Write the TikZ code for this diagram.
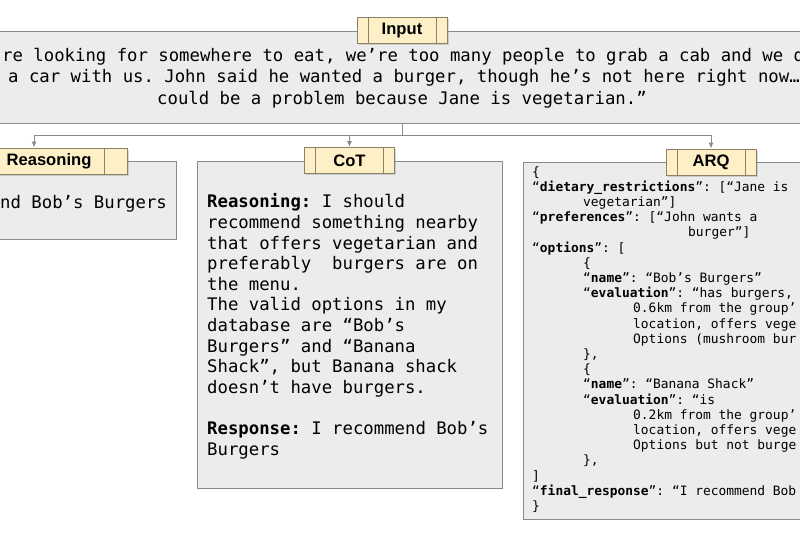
\documentclass[tikz,border=0pt]{standalone}
\usepackage{fontspec}
\setmainfont{Liberation Sans}
\setmonofont{DejaVu Sans Mono}
\usetikzlibrary{arrows.meta,shadows}

\definecolor{panelgray}{HTML}{ECECEC}
\definecolor{edgegray}{HTML}{8A8A8A}
\definecolor{tagyellow}{HTML}{FDF0C6}
\definecolor{tagedge}{HTML}{8C8068}

\tikzset{
  panel/.style={draw=edgegray,fill=panelgray,line width=1pt,inner sep=0pt},
  tag inset/.store in=\taginset, tag inset=11pt,
  tag/.style={draw=tagedge,fill=tagyellow,line width=0.9pt,minimum width=90pt,minimum height=26pt,inner sep=0pt,
    font=\bfseries\fontsize{16.6}{18}\selectfont,
    drop shadow={shadow xshift=1.5pt,shadow yshift=-1.5pt,opacity=0.3},
    path picture={\draw[tagedge,line width=0.9pt]
      ([xshift=\taginset]path picture bounding box.north west) -- ([xshift=\taginset]path picture bounding box.south west)
      ([xshift=-\taginset]path picture bounding box.north east) -- ([xshift=-\taginset]path picture bounding box.south east);}},
  % multi-line texts sit on the baseline of their last line
  body/.style={anchor=base west,inner sep=0pt,align=left,font=\ttfamily\fontsize{17.3}{20.6}\selectfont},
  prompt/.style={body,font=\ttfamily\fontsize{17.3}{21.5}\selectfont},
  json/.style={body,font=\ttfamily\fontsize{12.9}{15.2}\selectfont},
  wire/.style={draw=edgegray,line width=1pt},
}

\begin{document}
\begin{tikzpicture}[x=1pt,y=-1pt]
\useasboundingbox (0,0) rectangle (800,533);
\clip (0,0) rectangle (800,533);

% panels
\node[panel,minimum width=1000pt,minimum height=92pt] (inbox) at (402,77) {};
\node[panel,minimum width=296pt,minimum height=78pt] (nonebox) at (28,200) {};
\node[panel,minimum width=305pt,minimum height=327pt] (cotbox) at (349.5,324.5) {};
\node[panel,minimum width=477pt,minimum height=357pt] (arqbox) at (761.5,340.5) {};

% texts
\node[prompt] (intext) at (2,104) {re looking for somewhere to eat, we’re too many people to grab a cab and we d\\
\hspace*{6pt}a car with us. John said he wanted a burger, though he’s not here right now…\\
\hspace*{155pt}could be a problem because Jane is vegetarian.”};
\node[body] (nonetext) at (0,208) {nd Bob’s Burgers};
\node[body] (cottext) at (207,455) {\textbf{Reasoning:} I should\\
recommend something nearby\\
that offers vegetarian and\\
preferably~~burgers are on\\
the menu.\\
The valid options in my\\
database are “Bob’s\\
Burgers” and “Banana\\
Shack”, but Banana shack\\
doesn’t have burgers.\\[20.6pt]
\textbf{Response:} I recommend Bob’s\\
Burgers};
\node[json] (arqtext) at (532,510.5) {\{\\
“\textbf{dietary\_restrictions}”: [“Jane is\\
\hspace*{51pt}vegetarian”]\\
“\textbf{preferences}”: [“John wants a\\
\hspace*{156pt}burger”]\\
“\textbf{options}”: [\\
\hspace*{51pt}\{\\
\hspace*{51pt}“\textbf{name}”: “Bob’s Burgers”\\
\hspace*{51pt}“\textbf{evaluation}”: “has burgers,\\
\hspace*{101pt}0.6km from the group’\\
\hspace*{101pt}location, offers vege\\
\hspace*{101pt}Options (mushroom bur\\
\hspace*{51pt}\},\\
\hspace*{51pt}\{\\
\hspace*{51pt}“\textbf{name}”: “Banana Shack”\\
\hspace*{51pt}“\textbf{evaluation}”: “is\\
\hspace*{101pt}0.2km from the group’\\
\hspace*{101pt}location, offers vege\\
\hspace*{101pt}Options but not burge\\
\hspace*{51pt}\},\\
]\\
“\textbf{final\_response}”: “I recommend Bob\\
\}};

% labels
\node[tag] (intag) at (inbox.north) {Input};
\node[tag,minimum width=186pt,tag inset=23pt] (nonetag) at (34,161) {\hspace*{30pt}Reasoning};
\node[tag] (cottag) at (cotbox.north) {CoT};
\node[tag] (arqtag) at (711,162) {ARQ};

% connectors
\coordinate (split) at (402,135);
\draw[wire] (inbox.south) -- (split);
\foreach \t in {nonetag,cottag,arqtag}
  \draw[wire,-{Latex[length=6pt,width=5pt]}] (split) -| (\t.north);
\end{tikzpicture}
\end{document}
